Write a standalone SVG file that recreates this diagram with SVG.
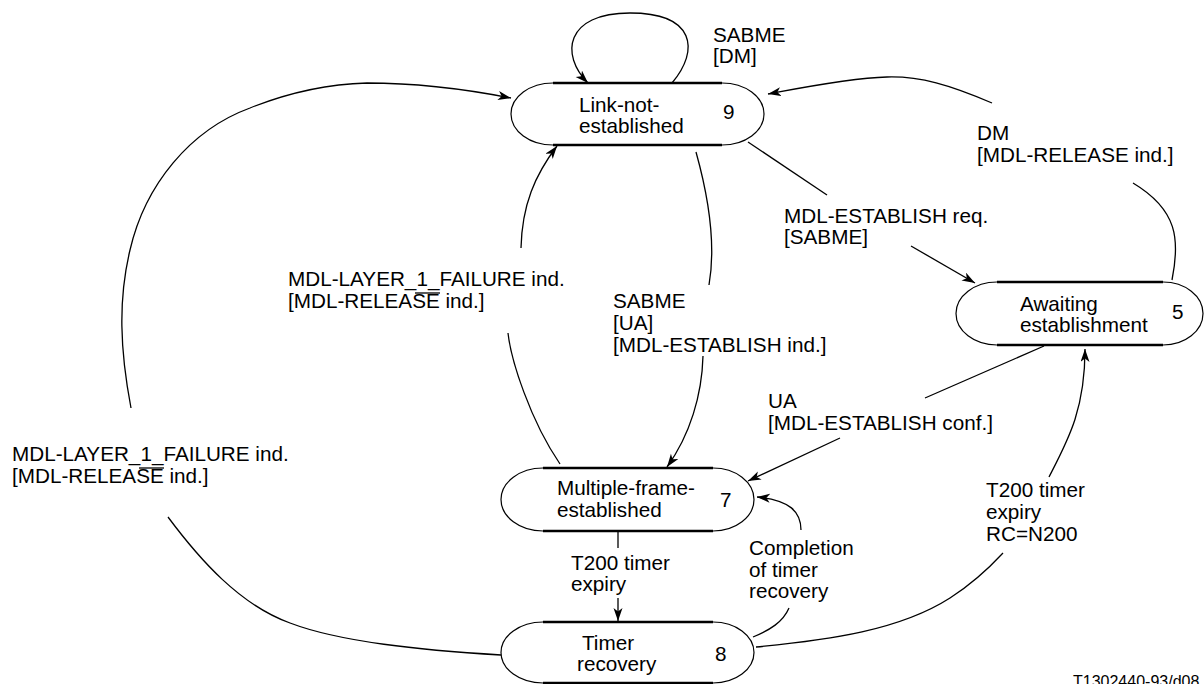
<svg xmlns="http://www.w3.org/2000/svg" width="1204" height="684" viewBox="0 0 1204 684">
<defs>
<style>
text{font-family:"Liberation Sans",Arial,sans-serif;font-size:20.7px;fill:#000}
.arc{fill:#fff;stroke:#000;stroke-width:1.2}
.edge{fill:none;stroke:#000;stroke-width:2.6}
.c{fill:none;stroke:#000;stroke-width:1.3}
.ov{stroke:#000;stroke-width:1.3}
.ref{font-size:16px}
</style>
<marker id="ah" markerUnits="userSpaceOnUse" markerWidth="14" markerHeight="10" refX="13" refY="4.5" orient="auto">
<path d="M0,0 L13,4.5 L0,9 L3.5,4.5 z" fill="#000"/>
</marker>
</defs>
<rect width="1204" height="684" fill="#fff"/>

<g id="connectors">
<path class="c" d="M672,83 C700,50 695,13 630,13 C565,13 560,55 588,83" marker-end="url(#ah)"/>
<path class="c" d="M131,408 C120,350 118,300 130,250 C145,185 190,130 250,108 C290,92 330,84 367,83 C420,83 470,90 511,98" marker-end="url(#ah)"/>
<path class="c" d="M168,517 C200,560 240,605 290,623 C340,642 420,650 501,655"/>
<path class="c" d="M521,248 C522,205 535,175 557,146" marker-end="url(#ah)"/>
<path class="c" d="M508,333 C511,360 530,420 560,464"/>
<path class="c" d="M696,152 C708,195 716,245 709,285"/>
<path class="c" d="M703,356 C702,395 690,435 667,467" marker-end="url(#ah)"/>
<path class="c" d="M748,142 L827,195"/>
<path class="c" d="M911,246 L975,283" marker-end="url(#ah)"/>
<path class="c" d="M1172,280 C1180,240 1178,210 1133,183"/>
<path class="c" d="M992,103 C950,85 920,76 887,77 C850,78 800,88 768,94" marker-end="url(#ah)"/>
<path class="c" d="M1044,346 L925,398"/>
<path class="c" d="M840,438 L748,481" marker-end="url(#ah)"/>
<path class="c" d="M789,608 C783,622 770,630 753,637"/>
<path class="c" d="M801,530 C801,512 790,500 757,497" marker-end="url(#ah)"/>
<path class="c" d="M618,531 L618,548"/>
<path class="c" d="M618,598 L618,621" marker-end="url(#ah)"/>
<path class="c" d="M756,647 C830,640 900,630 950,598 C975,582 990,567 1003,553"/>
<path class="c" d="M1049,477 C1068,440 1085,410 1085,349" marker-end="url(#ah)"/>
</g>

<g id="labels">
<text x="713" y="42">SABME</text>
<text x="713" y="63">[DM]</text>
<text x="977" y="140">DM</text>
<text x="977" y="162">[MDL-RELEASE ind.]</text>
<text x="784" y="223">MDL-ESTABLISH req.</text>
<text x="784" y="244">[SABME]</text>
<text x="288" y="286">MDL-LAYER_1_FAILURE ind.</text>
<text x="288" y="308">[MDL-RELEASE ind.]</text>
<line class="ov" x1="415" y1="293" x2="440" y2="293"/>
<text x="613" y="308">SABME</text>
<text x="613" y="330">[UA]</text>
<text x="613" y="352">[MDL-ESTABLISH ind.]</text>
<text x="768" y="408">UA</text>
<text x="768" y="430">[MDL-ESTABLISH conf.]</text>
<text x="12" y="461">MDL-LAYER_1_FAILURE ind.</text>
<text x="12" y="483">[MDL-RELEASE ind.]</text>
<line class="ov" x1="139" y1="468" x2="164" y2="468"/>
<text x="571" y="570">T200 timer</text>
<text x="571" y="591">expiry</text>
<text x="749" y="555">Completion</text>
<text x="749" y="577">of timer</text>
<text x="749" y="598">recovery</text>
<text x="986" y="497">T200 timer</text>
<text x="986" y="519">expiry</text>
<text x="986" y="541">RC=N200</text>
<text class="ref" x="1073" y="687">T1302440-93/d08</text>
</g>

<g id="node9">
<path class="arc" d="M553,83 L722,83 A42,31 0 0 1 722,145 L553,145 A42,31 0 0 1 553,83 Z"/>
<path class="edge" d="M553,83 L722,83 M553,145 L722,145"/>
<text x="579" y="112">Link-not-</text>
<text x="579" y="133">established</text>
<text x="723" y="119">9</text>
</g>

<g id="node5">
<path class="arc" d="M997,282 L1163,282 A40,31.5 0 0 1 1163,345 L997,345 A41,31.5 0 0 1 997,282 Z"/>
<path class="edge" d="M997,282 L1163,282 M997,345 L1163,345"/>
<text x="1020" y="311">Awaiting</text>
<text x="1020" y="332">establishment</text>
<text x="1172" y="319">5</text>
</g>

<g id="node7">
<path class="arc" d="M543,468 L713,468 A41,31.5 0 0 1 713,531 L543,531 A42,31.5 0 0 1 543,468 Z"/>
<path class="edge" d="M543,468 L713,468 M543,531 L713,531"/>
<text x="557" y="495">Multiple-frame-</text>
<text x="557" y="517">established</text>
<text x="720" y="507">7</text>
</g>

<g id="node8">
<path class="arc" d="M543,622 L713,622 A41,30.5 0 0 1 713,683 L543,683 A42,30.5 0 0 1 543,622 Z"/>
<path class="edge" d="M543,622 L713,622 M543,683 L713,683"/>
<text x="582" y="650">Timer</text>
<text x="577" y="671">recovery</text>
<text x="715" y="661">8</text>
</g>
</svg>
